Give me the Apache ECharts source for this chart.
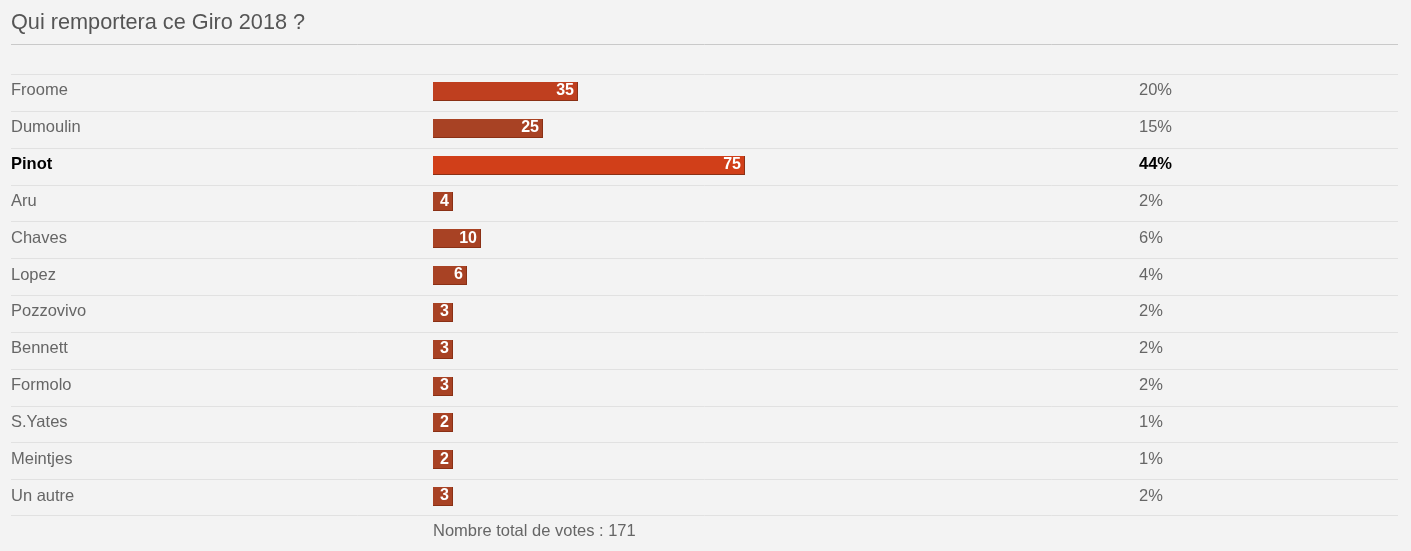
<!DOCTYPE html>
<html>
<head>
<meta charset="utf-8">
<script src="https://cdn.jsdelivr.net/npm/echarts@6/dist/echarts.min.js"></script>
<style>
html,body{margin:0;padding:0;background:#f3f3f3;}
#chart{width:1411px;height:551px;}
</style>
</head>
<body>
<div id="chart"></div>
<script>
// ---- data ----
const titleText = 'Qui remportera ce Giro 2018 ?';
const names = ['Froome','Dumoulin','Pinot','Aru','Chaves','Lopez','Pozzovivo','Bennett','Formolo','S.Yates','Meintjes','Un autre'];
const votes = [35, 25, 75, 4, 10, 6, 3, 3, 3, 2, 2, 3];
const percents = [20, 15, 44, 2, 6, 4, 2, 2, 2, 1, 1, 2];
const totalVotes = 171;

// ---- styles ----
const barColors = ['#bf3f1f','#a84224','#d13f19','#a84224','#a84224','#a84224','#a84224','#a84224','#a84224','#a84224','#a84224','#a84224'];
const barEdge = '#8a3015';
const FONT = '"Liberation Sans", Arial, Helvetica, sans-serif';
const textGray = '#666';
const BODY = '16.5px ';

const maxVotes = Math.max(...votes);
const chart = echarts.init(document.getElementById('chart'));

const option = {
  backgroundColor: '#f3f3f3',
  animation: false,
  title: [
    { text: titleText, left: 11, top: 12, padding: 0,
      textStyle: { fontFamily: FONT, fontSize: 21.7, fontWeight: 'normal', color: '#555' } },
    { text: 'Nombre total de votes : ' + totalVotes, left: 433, top: 523, padding: 0,
      textStyle: { fontFamily: FONT, fontSize: 16.5, fontWeight: 'normal', color: textGray } }
  ],
  graphic: [
    { type: 'line', shape: { x1: 11, y1: 44.5, x2: 1398, y2: 44.5 }, style: { stroke: '#c9c9c9', lineWidth: 1 } }
  ],
  grid: { left: 433, right: 282.2, top: 74, bottom: 35 },
  xAxis: { type: 'value', min: 0, max: 100, show: false },
  yAxis: { type: 'category', data: names, inverse: true, show: false },
  series: [{
    type: 'custom',
    clip: false,
    encode: { x: 0, y: 1 },
    data: names.map((n, i) => [percents[i], i, votes[i]]),
    renderItem: function (params, api) {
      const i = api.value(1);
      const pct = api.value(0);
      const v = api.value(2);
      const start = api.coord([0, i]);
      const end = api.coord([pct, i]);
      const right = api.coord([100, i]);
      const band = api.size([0, 1])[1];
      const cy = start[1];
      const top = cy - band / 2;
      const bottom = cy + band / 2;
      const isMax = v === maxVotes;
      const x0 = Math.round(start[0]);
      const w = Math.max(Math.round(end[0] - start[0] + 6), 20);
      const by = Math.round(cy - 10.5);
      const bh = 19;
      const ty = cy - 1.5;
      const children = [
        { type: 'line', shape: { x1: 11, y1: Math.round(top) + 0.5, x2: 1398, y2: Math.round(top) + 0.5 },
          style: { stroke: '#e1e1e1', lineWidth: 1 } },
        { type: 'text', style: { x: 11, y: ty, text: names[i], verticalAlign: 'middle', align: 'left',
            font: (isMax ? 'bold ' : '') + BODY + FONT, fill: isMax ? '#000' : textGray } },
        { type: 'rect', shape: { x: x0, y: by, width: w, height: bh }, style: { fill: barEdge } },
        { type: 'rect', shape: { x: x0, y: by, width: w - 1, height: bh - 1 }, style: { fill: barColors[i] } },
        { type: 'text', style: { x: x0 + w - 4, y: ty, text: String(v), verticalAlign: 'middle', align: 'right',
            font: 'bold 16px ' + FONT, fill: '#fff' } },
        { type: 'text', style: { x: Math.round(right[0]) + 10, y: ty, text: pct + '%', verticalAlign: 'middle', align: 'left',
            font: (isMax ? 'bold ' : '') + BODY + FONT, fill: isMax ? '#000' : textGray } }
      ];
      if (i === names.length - 1) {
        children.push({ type: 'line', shape: { x1: 11, y1: Math.round(bottom) - 0.5, x2: 1398, y2: Math.round(bottom) - 0.5 },
          style: { stroke: '#e1e1e1', lineWidth: 1 } });
      }
      return { type: 'group', children: children };
    }
  }]
};
chart.setOption(option);
</script>
</body>
</html>
